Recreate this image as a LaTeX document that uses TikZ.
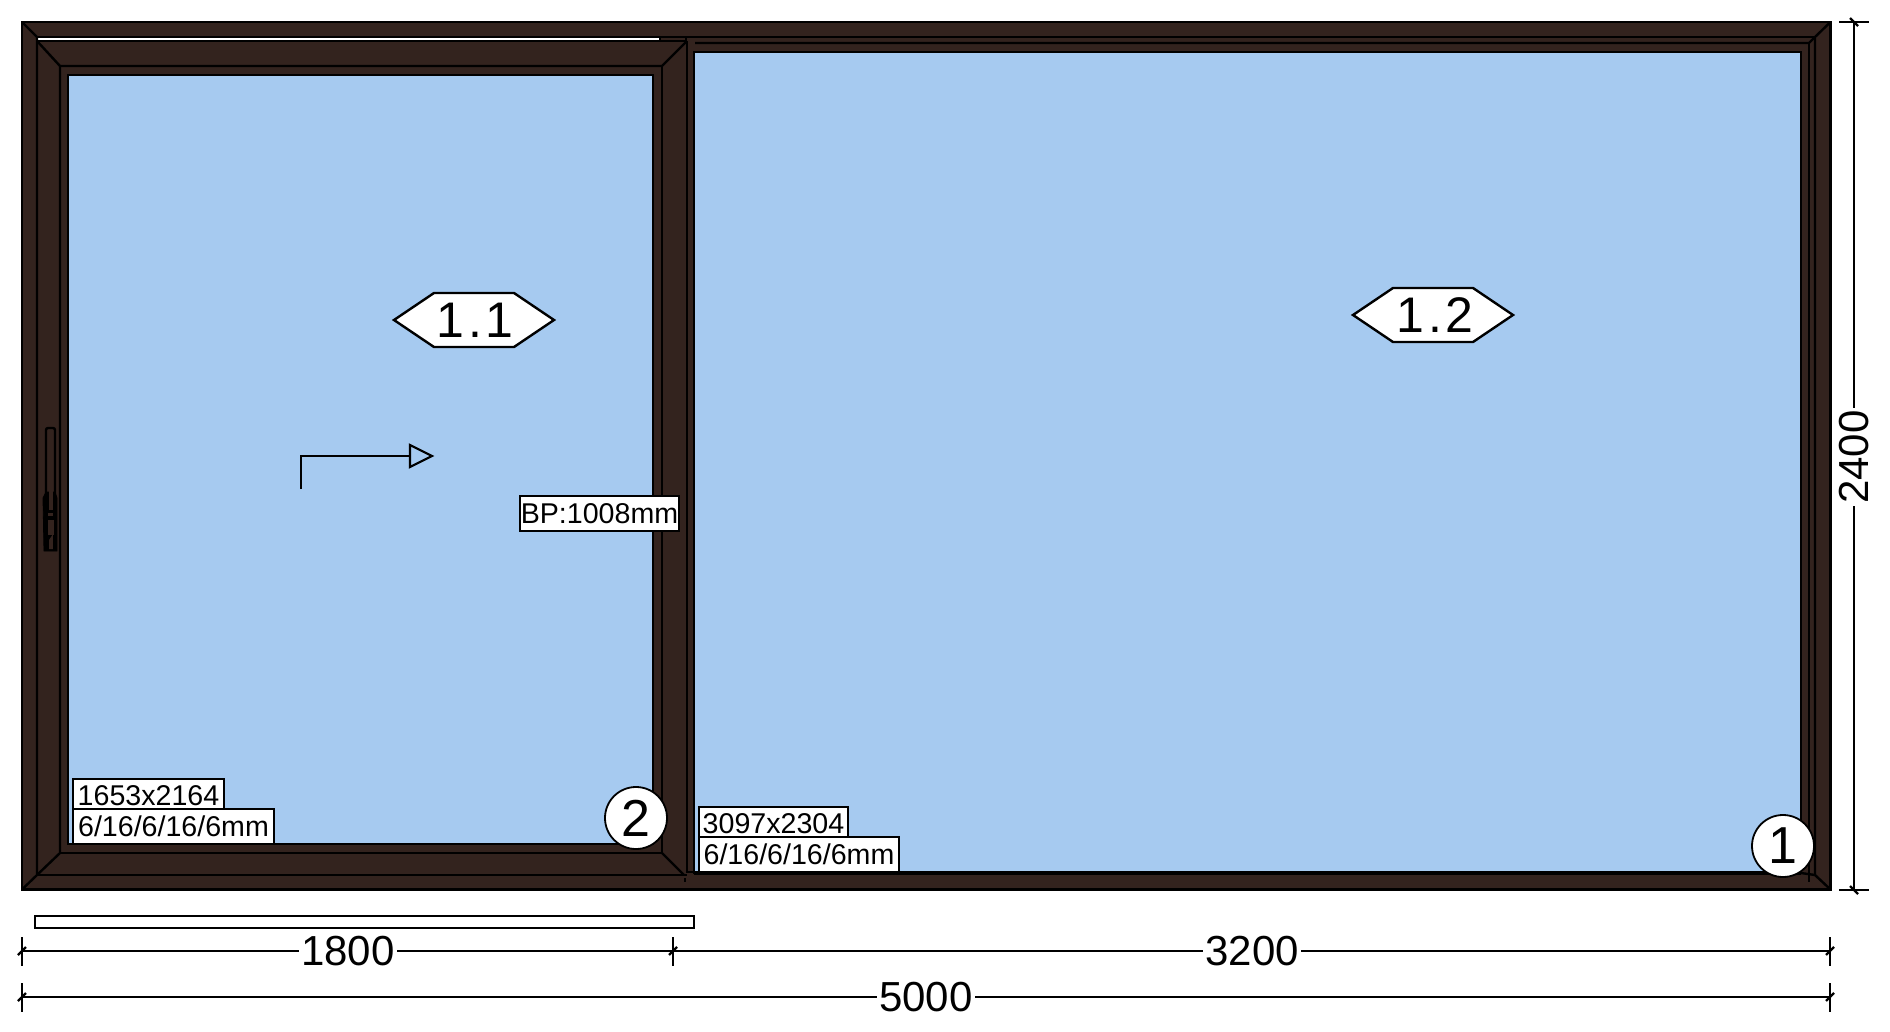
\documentclass[tikz,border=0pt]{standalone}
\usepackage{fontspec}
\setmainfont{Liberation Sans}
\definecolor{frameBrown}{HTML}{33231E}
\definecolor{glassBlue}{HTML}{A6CAF0}
\tikzset{
  frameline/.style={draw=black, line width=1.2pt},
  glass/.style={fill=glassBlue, draw=black, line width=1.3pt},
  tagbox/.style={draw=black, fill=white, line width=1pt, inner sep=0pt, font=\fontsize{14.3}{14.3}\selectfont},
  hexbox/.style={draw=black, fill=white, line width=1.2pt},
  hexlabel/.style={inner sep=0pt, font=\fontsize{25}{25}\selectfont\addfontfeature{LetterSpace=8}},
  posmark/.style={circle, draw=black, fill=white, line width=0.9pt, minimum size=31pt, inner sep=0pt, font=\fontsize{26}{26}\selectfont},
  dimtext/.style={inner sep=1pt, font=\fontsize{21}{21}\selectfont},
  dimline/.style={draw=black, line width=1.1pt}
}
\begin{document}
\begin{tikzpicture}[x=0.5pt,y=-0.5pt]
  \useasboundingbox (0,0) rectangle (1890,1032);
  \draw[fill=frameBrown, draw=black, line width=1.4pt] (22,22) rectangle (1830.5,889.5);
  \draw[fill=white, frameline] (37,37) rectangle (660,41);
  \draw[frameline] (660,37) -- (1815,37);
  \draw[frameline] (660,41) -- (687,41);
  \draw[frameline] (686,37) -- (686,41);
  \draw[frameline] (22,22) -- (37,37) -- (37,875) -- (22,889.5);
  \draw[frameline] (37,41) -- (60,66) -- (662,66) -- (687,41);
  \draw[frameline] (60,66) -- (60,853) -- (37,875);
  \draw[frameline] (60,853) -- (662,853) -- (662,66);
  \draw[frameline] (662,853) -- (684,875);
  \draw[frameline] (37,875) -- (687,875);
  \draw[frameline] (687,41) -- (687,873);
  \draw[frameline] (695,43) -- (1809,43) -- (1815,37) -- (1830.5,22);
  \draw[frameline] (1809,43) -- (1809,882);
  \draw[frameline] (1815,37) -- (1815,875) -- (1830.5,889.5);
  \draw[frameline] (1801,873) -- (1815,875);
  \draw[frameline] (685,878) -- (685,882);
  \draw[glass] (68,75) rectangle (653,844);
  \draw[glass] (694,52) rectangle (1801,873);
  \draw[black, line width=2pt] (694,873) -- (1801,873);
  \draw[frameline] (687,872) -- (694,872);
  \draw[fill=frameBrown, frameline, rounded corners=1pt] (46,428) rectangle (55,498);
  \draw[fill=black] (43,498) -- (46,492) -- (55,492) -- (57,498) -- (57,551) -- (44,551) -- cycle;
  \draw[fill=frameBrown, draw=none] (48.5,431) rectangle (52.5,510);
  \draw[fill=frameBrown, draw=none] (48,513) rectangle (53,516);
  \draw[fill=frameBrown, draw=none] (48,520) rectangle (54,535);
  \draw[frameBrown, line width=0.8pt] (50,549) -- (50,540) -- (52,537) -- (52,549);

  \draw[hexbox] (394,320) -- (434,293) -- (514,293) -- (554,320) -- (514,347) -- (434,347) -- cycle;
  \node[hexlabel] (pane11) at (475,320) {1.1};
  \draw[hexbox] (1353,315) -- (1393,288) -- (1473,288) -- (1513,315) -- (1473,342) -- (1393,342) -- cycle;
  \node[hexlabel] (pane12) at (1435,315) {1.2};

  \coordinate (openfoot) at (301,489);
  \coordinate (openknee) at (301,456);
  \coordinate (opentip) at (410,456);
  \draw[black, line width=1.1pt] (openfoot) -- (openknee) -- (opentip);
  \draw[black, line width=1.1pt] (410,445) -- (432,456) -- (410,467) -- cycle;

  \node[tagbox, minimum width=79.5pt, minimum height=17.5pt] (bpmark) at (599.5,513.5) {BP:1008mm};
  \node[tagbox, minimum width=75.5pt, minimum height=17pt] (size11) at (148.5,796) {1653x2164};
  \node[tagbox, minimum width=100.5pt, minimum height=17.5pt] (glaze11) at (173.5,826.5) {6/16/6/16/6mm};
  \node[tagbox, minimum width=74.5pt, minimum height=17pt] (size12) at (773.5,824) {3097x2304};
  \node[tagbox, minimum width=100pt, minimum height=17.5pt] (glaze12) at (799,854.5) {6/16/6/16/6mm};
  \node[posmark] (mark2) at (636,818) {2};
  \node[posmark] (mark1) at (1783,846) {1};

  \draw[fill=white, dimline] (35,916) rectangle (694,928);

  \coordinate (dimaL) at (22,951);
  \coordinate (dimaM) at (673,951);
  \coordinate (dimaR) at (1830,951);
  \coordinate (dimbL) at (22,997);
  \coordinate (dimbR) at (1830,997);
  \coordinate (dimcT) at (1854,22);
  \coordinate (dimcB) at (1854,890);
  \node[dimtext] (len1800) at (348,951) {1800};
  \node[dimtext] (len3200) at (1252,951) {3200};
  \node[dimtext] (len5000) at (926,997) {5000};
  \node[dimtext, rotate=90] (len2400) at (1854,457) {2400};
  \draw[dimline] (dimaL) -- (len1800) -- (dimaM) -- (len3200) -- (dimaR);
  \draw[dimline] (dimbL) -- (len5000) -- (dimbR);
  \draw[dimline] (dimcT) -- (len2400) -- (dimcB);
  \foreach \tx/\ty in {22/951,673/951,1830/951,22/997,1830/997}{
    \draw[dimline] (\tx,\ty-14) -- (\tx,\ty+15);
    \draw[dimline] (\tx-4,\ty+4) -- (\tx+4,\ty-4);
  }
  \draw[dimline] (1839,22) -- (1869,22);
  \draw[dimline] (1839,890) -- (1869,890);
  \draw[dimline] (1850,18) -- (1858,26);
  \draw[dimline] (1850,886) -- (1858,894);
\end{tikzpicture}
\end{document}
